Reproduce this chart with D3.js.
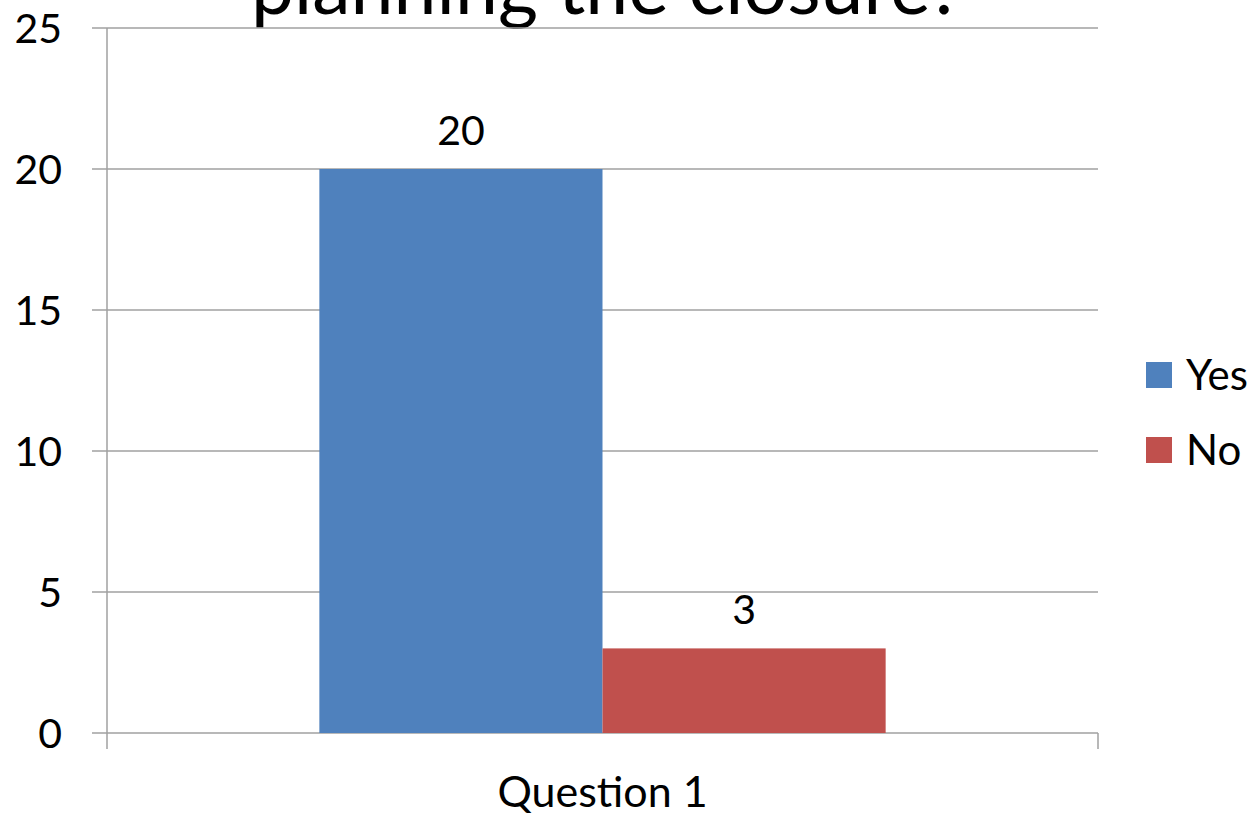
<!DOCTYPE html>
<html>
<head>
<meta charset="utf-8">
<script src="https://cdn.jsdelivr.net/npm/d3@7"></script>
<style>
  html, body { margin: 0; padding: 0; background: #fff; }
  svg { display: block; font-family: Lato, "Open Sans", sans-serif; }
</style>
</head>
<body>
<svg id="chart" width="1256" height="816"></svg>
<script>
// Survey answers
const categories = ["Question 1"];
const seriesNames = ["Yes", "No"];
const seriesValues = [[20], [3]];
const seriesColors = ["#4F81BD", "#C0504D"];
const yTicks = [0, 5, 10, 15, 20, 25];
const titleText = "planning the closure?";

const svg = d3.select("#chart");
const plot = { left: 107, right: 1098, top: 28, bottom: 733 };

const y = d3.scaleLinear().domain([0, 25]).range([plot.bottom, plot.top]);
const x0 = d3.scaleBand().domain(categories).range([plot.left, plot.right]).paddingInner(0).paddingOuter(0.375);
const x1 = d3.scaleBand().domain(seriesNames).range([0, x0.bandwidth()]).padding(0);

// Title (partly above the visible area)
svg.append("text")
  .attr("x", 607).attr("y", 14)
  .attr("text-anchor", "middle")
  .attr("font-size", 77)
  .attr("fill", "#000")
  .text(titleText);

// Horizontal gridlines
svg.append("g").selectAll("line").data(yTicks).join("line")
  .attr("x1", plot.left - 15).attr("x2", plot.right)
  .attr("y1", d => y(d)).attr("y2", d => y(d))
  .attr("stroke", "#a0a0a0").attr("stroke-width", 1.5);

// Y axis line
svg.append("line")
  .attr("x1", plot.left).attr("x2", plot.left)
  .attr("y1", plot.top).attr("y2", plot.bottom + 16)
  .attr("stroke", "#a0a0a0").attr("stroke-width", 1.5);

// Category boundary tick on the x axis
svg.append("line")
  .attr("x1", plot.right).attr("x2", plot.right)
  .attr("y1", plot.bottom).attr("y2", plot.bottom + 16)
  .attr("stroke", "#a0a0a0").attr("stroke-width", 1.5);

// Y tick labels
svg.append("g").selectAll("text").data(yTicks).join("text")
  .attr("x", 62).attr("y", d => y(d))
  .attr("dy", "0.36em")
  .attr("text-anchor", "end")
  .attr("font-size", 41)
  .text(d => d);

// Bars
const groups = svg.append("g").selectAll("g").data(categories).join("g")
  .attr("transform", d => `translate(${x0(d)},0)`);

seriesNames.forEach((name, si) => {
  groups.append("rect")
    .attr("x", x1(name))
    .attr("width", x1.bandwidth())
    .attr("y", (d, ci) => y(seriesValues[si][ci]))
    .attr("height", (d, ci) => y(0) - y(seriesValues[si][ci]))
    .attr("fill", seriesColors[si]);
  groups.append("text")
    .attr("x", x1(name) + x1.bandwidth() / 2)
    .attr("y", (d, ci) => y(seriesValues[si][ci]) - 24)
    .attr("text-anchor", "middle")
    .attr("font-size", 41)
    .text((d, ci) => seriesValues[si][ci]);
});

// Category labels
svg.append("g").selectAll("text").data(categories).join("text")
  .attr("x", d => x0(d) + x0.bandwidth() / 2)
  .attr("y", 807)
  .attr("text-anchor", "middle")
  .attr("font-size", 43)
  .text(d => d);

// Legend
const legend = svg.append("g").selectAll("g").data(seriesNames).join("g")
  .attr("transform", (d, i) => `translate(1146, ${362 + i * 75})`);
legend.append("rect")
  .attr("width", 26).attr("height", 26)
  .attr("fill", (d, i) => seriesColors[i]);
legend.append("text")
  .attr("x", 40).attr("y", 13).attr("dy", "0.36em")
  .attr("font-size", 42)
  .text(d => d);
</script>
</body>
</html>
